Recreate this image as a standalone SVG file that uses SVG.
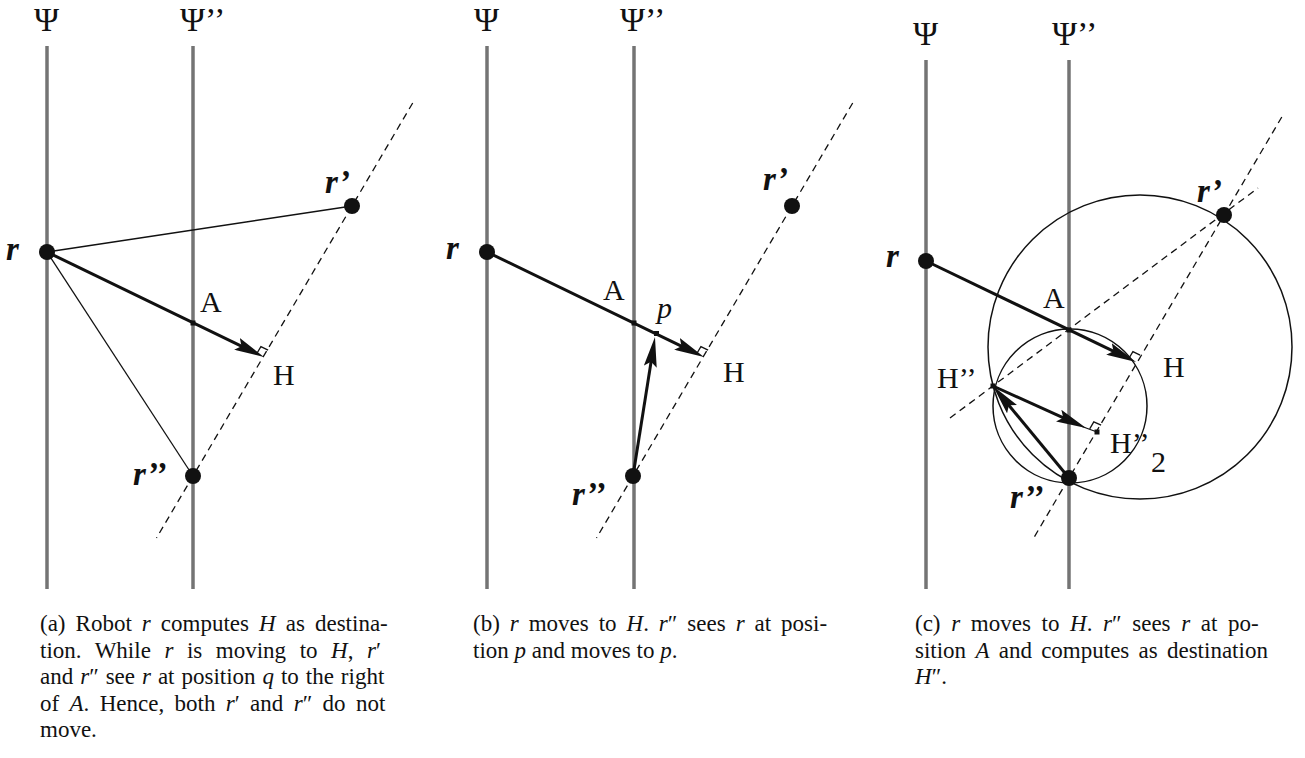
<svg xmlns="http://www.w3.org/2000/svg" width="1305" height="758" viewBox="0 0 1305 758">
<style>
.axis{stroke:#747474;stroke-width:3.5;fill:none}
.dash{stroke:#111;stroke-width:1.3;stroke-dasharray:7 5;fill:none}
.thin{stroke:#111;stroke-width:1.3;fill:none}
.thick{stroke:#111;stroke-width:3;fill:none}
.ra{stroke:#111;stroke-width:1.3;fill:none}
.circ{stroke:#111;stroke-width:1.5;fill:none}
.dot{fill:#111}
.tick{fill:#111}
.psi{font-family:"Liberation Serif",serif;font-size:34px;fill:#111}
.rob{font-family:"Liberation Serif",serif;font-size:33px;font-weight:bold;font-style:italic;fill:#111}
.pt{font-family:"Liberation Serif",serif;font-size:30px;fill:#111}
.cap{font-family:"Liberation Serif",serif;font-size:23px;fill:#111}
.it{font-style:italic}
</style>
<defs>
<marker id="ah" markerUnits="userSpaceOnUse" markerWidth="32" markerHeight="13" viewBox="0 0 32 13" refX="18" refY="6.5" orient="auto">
<path d="M0,0 L30,6.5 L0,13 L5,6.5 z" fill="#111"/>
</marker>
</defs>

<!-- Panel (a) -->
<g id="panel-a">
<g id="a-axes">
<line class="axis" x1="47" y1="46" x2="47" y2="589"/>
<line class="axis" x1="193" y1="46" x2="193" y2="589"/>
<text class="psi" x="34" y="31">Ψ</text>
<text class="psi" x="180" y="31">Ψ’’</text>
</g>
<g id="a-connectors">
<line class="dash" x1="412.7" y1="103" x2="156.5" y2="538"/>
<line class="thin" x1="47" y1="252" x2="352" y2="206"/>
<line class="thin" x1="47" y1="252" x2="193" y2="476"/>
<line class="thick" x1="47" y1="252" x2="253.2" y2="351.8" marker-end="url(#ah)"/>
<polyline class="ra" points="256.8,353.5 260.9,346.6 268.1,350.1"/>
</g>
<g id="a-r"><circle class="dot" cx="47" cy="252" r="8"/><text class="rob" x="6" y="260">r</text></g>
<g id="a-r1"><circle class="dot" cx="352" cy="206" r="8"/><text class="rob" x="325" y="193">r’</text></g>
<g id="a-r2"><circle class="dot" cx="193" cy="476" r="8"/><text class="rob" x="133" y="485">r’’</text></g>
<g id="a-A"><rect class="tick" x="190.5" y="320.5" width="5" height="5"/><text class="pt" x="200" y="312">A</text></g>
<g id="a-H"><text class="pt" x="273" y="385">H</text></g>
<g id="a-caption">
<text class="cap" x="40" y="631" word-spacing="4.3">(a) Robot <tspan class="it">r</tspan> computes <tspan class="it">H</tspan> as destina-</text>
<text class="cap" x="40" y="658" word-spacing="7.8">tion. While <tspan class="it">r</tspan> is moving to <tspan class="it">H</tspan>, <tspan class="it">r</tspan>′</text>
<text class="cap" x="40" y="684" word-spacing="1.2">and <tspan class="it">r</tspan>″ see <tspan class="it">r</tspan> at position <tspan class="it">q</tspan> to the right</text>
<text class="cap" x="40" y="711" word-spacing="4.6">of <tspan class="it">A</tspan>. Hence, both <tspan class="it">r</tspan>′ and <tspan class="it">r</tspan>″ do not</text>
<text class="cap" x="40" y="737">move.</text>
</g>
</g>

<!-- Panel (b) -->
<g id="panel-b">
<g id="b-axes">
<line class="axis" x1="487" y1="46" x2="487" y2="589"/>
<line class="axis" x1="634" y1="46" x2="634" y2="589"/>
<text class="psi" x="474" y="31">Ψ</text>
<text class="psi" x="620" y="31">Ψ’’</text>
</g>
<g id="b-connectors">
<line class="dash" x1="852.7" y1="103" x2="596.5" y2="538"/>
<line class="thick" x1="487" y1="252" x2="693.2" y2="351.8" marker-end="url(#ah)"/>
<line class="thick" x1="633" y1="476" x2="653.1" y2="348.9" marker-end="url(#ah)"/>
<polyline class="ra" points="696.8,353.5 700.9,346.6 708.1,350.1"/>
</g>
<g id="b-r"><circle class="dot" cx="487" cy="252" r="8"/><text class="rob" x="446" y="259">r</text></g>
<g id="b-r1"><circle class="dot" cx="792" cy="206" r="8"/><text class="rob" x="763" y="190">r’</text></g>
<g id="b-r2"><circle class="dot" cx="633" cy="476" r="8"/><text class="rob" x="572" y="505">r’’</text></g>
<g id="b-A"><rect class="tick" x="631.5" y="320.5" width="5" height="5"/><text class="pt" x="603" y="300">A</text></g>
<g id="b-p"><rect class="tick" x="654" y="331" width="5" height="5"/><text class="pt it" x="657" y="318">p</text></g>
<g id="b-H"><text class="pt" x="723" y="382">H</text></g>
<g id="b-caption">
<text class="cap" x="473" y="631" word-spacing="4.2">(b) <tspan class="it">r</tspan> moves to <tspan class="it">H</tspan>. <tspan class="it">r</tspan>″ sees <tspan class="it">r</tspan> at posi-</text>
<text class="cap" x="473" y="658">tion <tspan class="it">p</tspan> and moves to <tspan class="it">p</tspan>.</text>
</g>
</g>

<!-- Panel (c) -->
<g id="panel-c">
<g id="c-axes">
<line class="axis" x1="926" y1="60" x2="926" y2="589"/>
<line class="axis" x1="1069" y1="60" x2="1069" y2="589"/>
<text class="psi" x="913" y="45">Ψ</text>
<text class="psi" x="1052" y="45">Ψ’’</text>
</g>
<g id="c-circles">
<circle class="circ" cx="1140" cy="347" r="152"/>
<circle class="circ" cx="1070" cy="406" r="77"/>
</g>
<g id="c-connectors">
<line class="dash" x1="1281.8" y1="117" x2="1032.5" y2="540"/>
<line class="dash" x1="950" y1="418" x2="1258" y2="188"/>
<line class="thick" x1="926" y1="261" x2="1125.2" y2="356.8" marker-end="url(#ah)"/>
<polyline class="ra" points="1128.8,358.5 1132.9,351.6 1140.1,355.1"/>
<line class="thick" x1="993" y1="386" x2="1075.1" y2="423.1" marker-end="url(#ah)"/>
<line class="thin" x1="1082" y1="426.5" x2="1097" y2="432"/>
<polyline class="ra" points="1089.7,428.8 1093.8,421.9 1101.1,425.1"/>
<line class="thick" x1="1069" y1="478" x2="1000.6" y2="395.3" marker-end="url(#ah)"/>
</g>
<g id="c-r"><circle class="dot" cx="926" cy="261" r="8"/><text class="rob" x="886" y="267">r</text></g>
<g id="c-r1"><circle class="dot" cx="1224" cy="215" r="8"/><text class="rob" x="1197" y="202">r’</text></g>
<g id="c-r2"><circle class="dot" cx="1069" cy="478" r="8"/><text class="rob" x="1010" y="508">r’’</text></g>
<g id="c-A"><rect class="tick" x="1066.5" y="327.5" width="5" height="5"/><text class="pt" x="1043" y="308">A</text></g>
<g id="c-H"><text class="pt" x="1163" y="377">H</text></g>
<g id="c-H2"><rect class="tick" x="990.5" y="383.5" width="5" height="5"/><text class="pt" x="937" y="388">H’’</text></g>
<g id="c-H22"><rect class="tick" x="1094.5" y="429.5" width="5" height="5"/><text class="pt" x="1110" y="453">H’’</text><text class="pt" x="1151" y="472" font-size="22">2</text></g>
<g id="c-caption">
<text class="cap" x="915" y="631" word-spacing="4.9">(c) <tspan class="it">r</tspan> moves to <tspan class="it">H</tspan>. <tspan class="it">r</tspan>″ sees <tspan class="it">r</tspan> at po-</text>
<text class="cap" x="915" y="658" word-spacing="3.5">sition <tspan class="it">A</tspan> and computes as destination</text>
<text class="cap" x="915" y="684"><tspan class="it">H</tspan>″.</text>
</g>
</g>
</svg>
